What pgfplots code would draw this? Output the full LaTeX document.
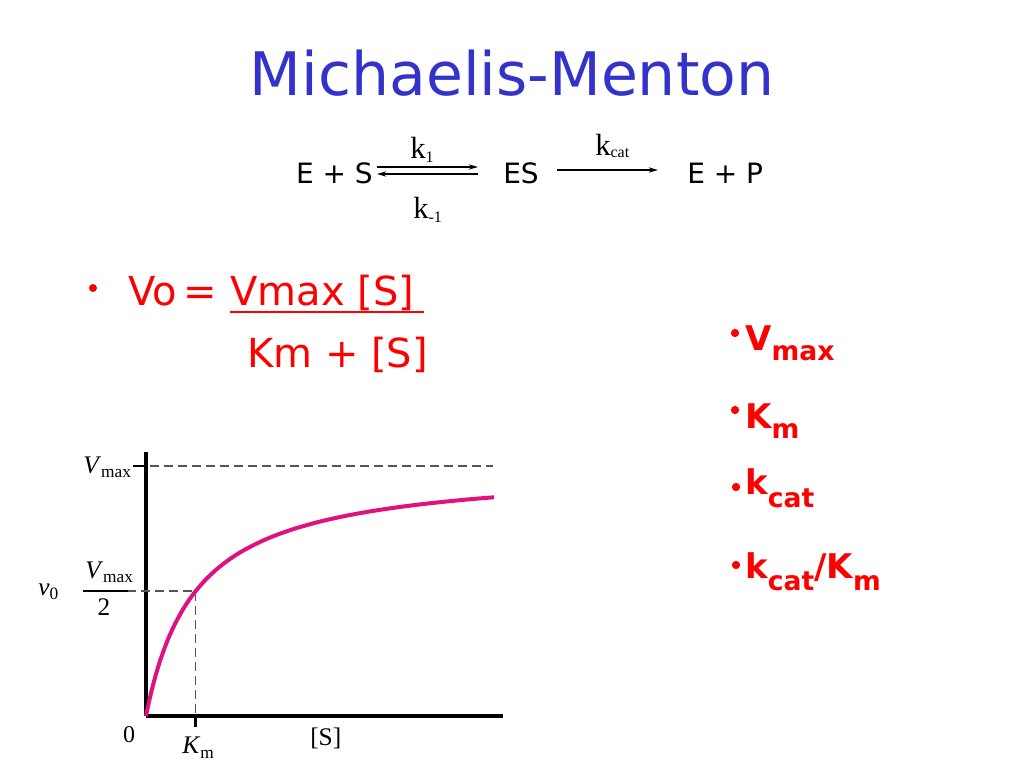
\documentclass[border=0pt]{standalone}
\usepackage{pgfplots}
\pgfplotsset{compat=1.18}
\usepackage{fontspec}
\setmainfont{DejaVu Sans}
\newfontfamily\tms{Liberation Serif}
\usetikzlibrary{arrows.meta}
\definecolor{titleblue}{RGB}{51,51,204}
\definecolor{curvecol}{RGB}{224,18,127}
\definecolor{dashgray}{RGB}{85,85,85}
\newcommand{\fs}[1]{\fontsize{#1}{#1}\selectfont}
\newcommand{\sub}[3]{\raisebox{-#2}{\fs{#1}#3}}

\begin{document}
\begin{tikzpicture}
\useasboundingbox[fill=white] (0,0) rectangle (768pt,-576pt);
\begin{axis}[
  at={(109.5pt,-537pt)}, anchor=south west,
  scale only axis, width=267.75pt, height=198pt,
  xmin=0, xmax=7.18, ymin=0, ymax=1.056,
  axis x line*=bottom, axis y line*=left,
  axis line style={line width=2.5pt, black},
  xtick=\empty, ytick=\empty,
  clip=false,
]
% reference lines
\draw[dashgray, line width=1.1pt, dash pattern=on 6.5pt off 4pt] (axis cs:0.08,1) -- (axis cs:6.98,1);
\draw[dashgray, line width=1.1pt, dash pattern=on 6.5pt off 4pt] (axis cs:-0.38,0.5) -- (axis cs:1,0.5) -- (axis cs:1,0);
\draw[black, line width=1pt] (axis cs:-1.27,0.5) -- (axis cs:-0.36,0.5);
\draw[black, line width=2.2pt] (axis cs:-0.27,1) -- (axis cs:0,1);
\draw[black, line width=2.2pt] (axis cs:1,0.01) -- (axis cs:1,-0.045);
\addplot[curvecol, line width=3pt, smooth] coordinates {
(0,0) (0.01,0.0099) (0.025,0.0244) (0.05,0.0476) (0.08,0.0741) (0.12,0.1071)
(0.17,0.1453) (0.23,0.1870) (0.3,0.2308) (0.4,0.2857) (0.5,0.3333) (0.62,0.3827)
(0.75,0.4286) (0.88,0.4681) (1,0.5) (1.2,0.5455) (1.4,0.5833) (1.6,0.6154)
(1.8,0.6429) (2,0.6667) (2.3,0.6970) (2.6,0.7222) (3,0.75) (3.5,0.7778)
(4,0.8) (4.5,0.8182) (5,0.8333) (5.5,0.8462) (6,0.8571) (6.5,0.8667) (7,0.875)
};
\end{axis}

\begin{scope}[x=0.75pt, y=-0.75pt, every node/.style={inner sep=0pt}]
% title
\node[anchor=base, text=titleblue, font=\fs{45}] at (512,95) {Michaelis-Menton};
% reaction
\node[anchor=base east, font=\fs{21}] at (373,183) {E + S};
\node[anchor=base west, font=\fs{21}] at (503,183) {ES};
\node[anchor=base west, font=\fs{21}] at (687,183) {E + P};
\draw[line width=0.9pt, -{Stealth[length=7pt,width=4pt]}] (377,167) -- (478,167);
\draw[line width=0.9pt, -{Stealth[length=7pt,width=4pt]}] (478,174) -- (377,174);
\draw[line width=0.9pt, -{Stealth[length=7pt,width=4pt]}] (557,170) -- (658,170);
\node[anchor=base west, font=\tms\fs{23}] at (410,158) {k\sub{12}{3pt}{1}};
\node[anchor=base west, font=\tms\fs{23}] at (413,218) {k\sub{12}{3pt}{-1}};
\node[anchor=base west, font=\tms\fs{23}] at (595,155) {k\sub{12}{2pt}{cat}};
% Vo formula
\fill[red] (93,288) circle[radius=3pt];
\node[anchor=base west, text=red, font=\fs{30}] at (128,305) {Vo\,=};
\node[anchor=base west, text=red, font=\fs{30}] at (230,305) {Vmax [S]};
\draw[red, line width=2.2pt] (230,312) -- (424,312);
\node[anchor=base west, text=red, font=\fs{30}] at (247,367) {Km + [S]};
% right list
\fill[red] (735,333) circle[radius=3.1pt];
\fill[red] (735,410) circle[radius=3.1pt];
\fill[red] (736,487) circle[radius=3.1pt];
\fill[red] (736,565) circle[radius=3.1pt];
\node[anchor=base west, text=red, font=\bfseries\fs{25.5}] at (745,350) {V\sub{20}{7.5pt}{max}};
\node[anchor=base west, text=red, font=\bfseries\fs{25.5}] at (745,428) {K\sub{20}{7.5pt}{m}};
\node[anchor=base west, text=red, font=\bfseries\fs{25.5}] at (745,494) {k\sub{20}{10pt}{cat}};
\node[anchor=base west, text=red, font=\bfseries\fs{25.5}] at (745,578) {k\sub{20}{9pt}{cat}/K\sub{20}{9pt}{m}};
% plot labels
\node[anchor=base west, font=\tms\fs{19}] at (83,473) {\textit{V}\sub{13}{3pt}{max}};
\node[anchor=base west, font=\tms\fs{19}] at (85,578) {\textit{V}\sub{13}{3pt}{max}};
\node[anchor=base, font=\tms\fs{19}] at (104,615) {2};
\node[anchor=base west, font=\tms\fs{19}] at (38,595) {\textit{v}\sub{13}{3pt}{0}};
\node[anchor=base, font=\tms\fs{18}] at (129,742) {0};
\node[anchor=base west, font=\tms\fs{19}] at (310,745) {[S]};
\node[anchor=base west, font=\tms\fs{19}] at (182,753) {\textit{K}\sub{13}{4pt}{m}};
\end{scope}
\end{tikzpicture}
\end{document}
